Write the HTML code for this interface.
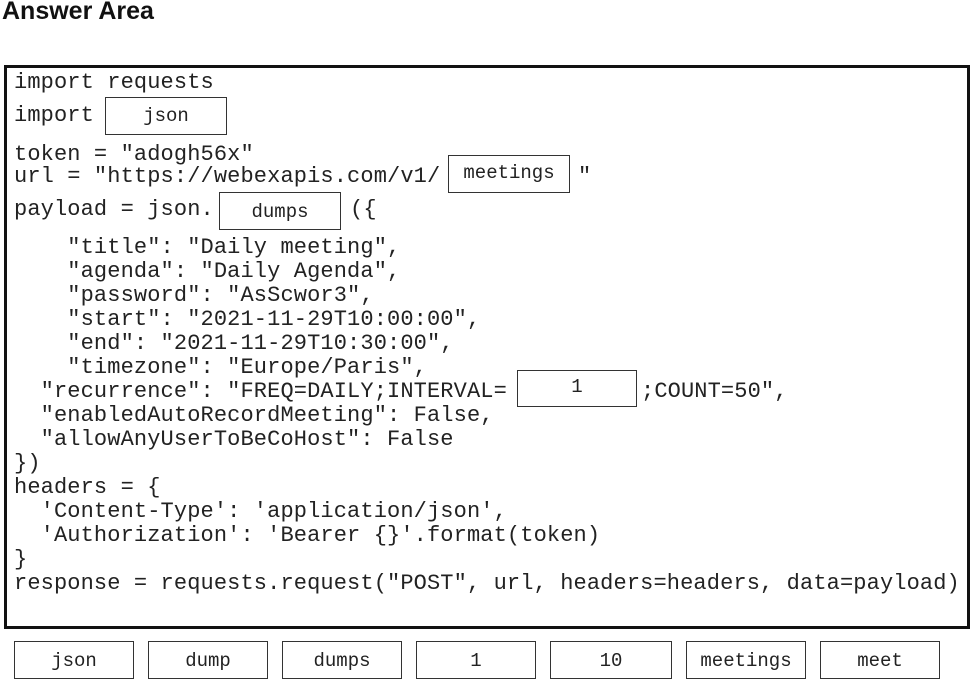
<!DOCTYPE html>
<html><head><style>
body{margin:0;width:973px;height:681px;background:#fff;position:relative;overflow:hidden;font-family:"Liberation Mono",monospace;color:#222}
.t{position:absolute;font-size:22px;line-height:24px;white-space:pre;letter-spacing:0.12px}
.h{position:absolute;left:2px;top:-3px;font:bold 25px "Liberation Sans",sans-serif;color:#111}
.frame{position:absolute;left:4px;top:65px;width:960px;height:558px;border:3px solid #111}
.b{position:absolute;border:1.5px solid #333;box-sizing:border-box;font-size:19px;text-align:center;font-family:"Liberation Mono",monospace;color:#222}
</style></head><body>
<div class="h">Answer Area</div>
<div class="frame"></div>
<div class="t" style="left:14px;top:71px">import requests</div>
<div class="t" style="left:14px;top:104px">import</div>
<div class="b" style="left:105px;top:97px;width:122px;height:38px;line-height:36px">json</div>
<div class="t" style="left:14px;top:143px">token = "adogh56x"</div>
<div class="t" style="left:14px;top:165px">url = "https://webexapis.com/v1/</div>
<div class="b" style="left:448px;top:155px;width:122px;height:38px;line-height:34px">meetings</div>
<div class="t" style="left:578px;top:165px">"</div>
<div class="t" style="left:14px;top:198px">payload = json.</div>
<div class="b" style="left:219px;top:192px;width:122px;height:38px;line-height:38px">dumps</div>
<div class="t" style="left:350px;top:198px">({</div>
<div class="t" style="left:14px;top:236px">    "title": "Daily meeting",
    "agenda": "Daily Agenda",
    "password": "AsScwor3",
    "start": "2021-11-29T10:00:00",
    "end": "2021-11-29T10:30:00",
    "timezone": "Europe/Paris",
  "recurrence": "FREQ=DAILY;INTERVAL=</div>
<div class="b" style="left:517px;top:370px;width:120px;height:37px;line-height:32px">1</div>
<div class="t" style="left:641px;top:380px">;COUNT=50",</div>
<div class="t" style="left:14px;top:404px">  "enabledAutoRecordMeeting": False,
  "allowAnyUserToBeCoHost": False
})
headers = {
  'Content-Type': 'application/json',
  'Authorization': 'Bearer {}'.format(token)
}
response = requests.request("POST", url, headers=headers, data=payload)</div>
<div class="b" style="left:14px;top:641px;width:120px;height:38px;line-height:38px">json</div>
<div class="b" style="left:148px;top:641px;width:120px;height:38px;line-height:38px">dump</div>
<div class="b" style="left:282px;top:641px;width:120px;height:38px;line-height:38px">dumps</div>
<div class="b" style="left:416px;top:641px;width:120px;height:38px;line-height:38px">1</div>
<div class="b" style="left:550px;top:641px;width:122px;height:38px;line-height:38px">10</div>
<div class="b" style="left:686px;top:641px;width:120px;height:38px;line-height:38px">meetings</div>
<div class="b" style="left:820px;top:641px;width:120px;height:38px;line-height:38px">meet</div>
</body></html>
